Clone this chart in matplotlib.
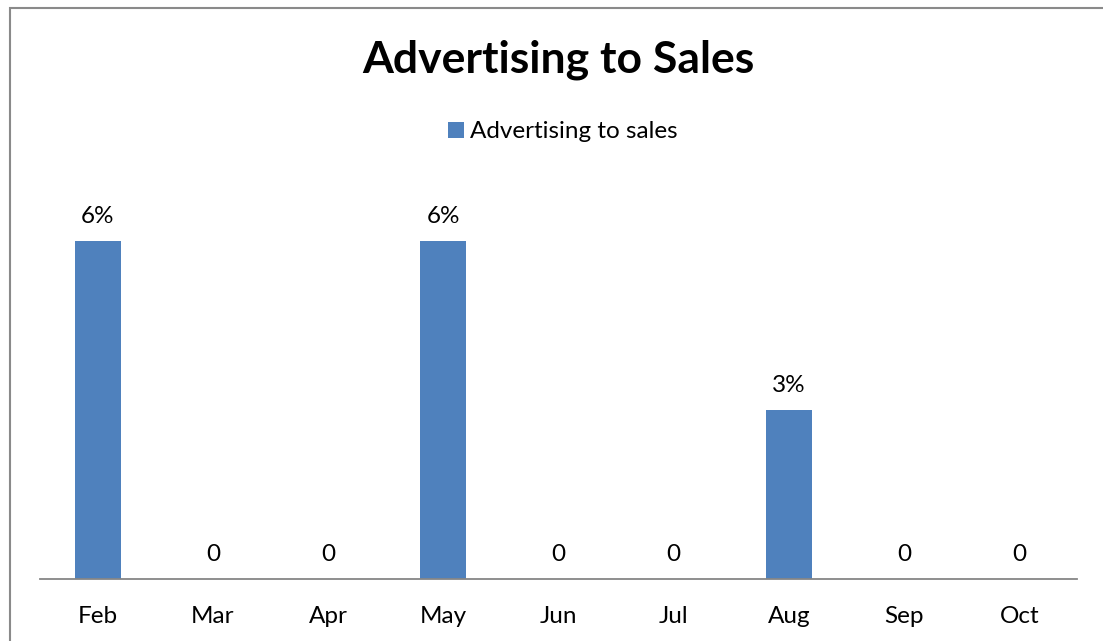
import matplotlib.pyplot as plt
from matplotlib.patches import Rectangle

months = ['Feb', 'Mar', 'Apr', 'May', 'Jun', 'Jul', 'Aug', 'Sep', 'Oct']
ad_to_sales = [0.06, 0, 0, 0.06, 0, 0, 0.03, 0, 0]

plt.rcParams['font.family'] = ['Lato', 'DejaVu Sans']

W, H = 1103, 641
fig = plt.figure(figsize=(W / 100, H / 100), dpi=100)
ax = fig.add_axes([40 / W, 62 / H, (1077 - 40) / W, (579 - 185) / H])

bar_color = '#4F81BD'
x = range(len(months))
bars = ax.bar(x, ad_to_sales, width=0.4, color=bar_color, label='Advertising to sales')

for xi, v in zip(x, ad_to_sales):
    txt = '0' if v == 0 else f'{v:.0%}'
    ax.annotate(txt, (xi, v), xytext=(0, 10), textcoords='offset points',
                ha='center', va='bottom', fontsize=17.5)

ax.set_xlim(-0.5, len(months) - 0.5)
ax.set_ylim(0, 0.07)
ax.set_xticks(list(x))
ax.set_xticklabels(months, fontsize=17.5)
ax.tick_params(axis='x', length=0, pad=19.5)
ax.set_yticks([])
for s in ['top', 'right', 'left']:
    ax.spines[s].set_visible(False)
ax.spines['bottom'].set_color('#868686')
ax.spines['bottom'].set_linewidth(1.3)

fig.text(558 / W, 1 - 60 / H, 'Advertising to Sales', ha='center', va='center',
         fontsize=32, fontweight='bold')
fig.legend(handles=[bars], loc='center', bbox_to_anchor=(563 / W, 1 - 132 / H),
           frameon=False, fontsize=17.5, handlelength=0.65, handleheight=0.65,
           handletextpad=0.25)

# chart frame (cropped on the right and bottom)
fig.patches.append(Rectangle((10 / W, -0.1), 1.2, 1 - 8 / H + 0.1,
                             transform=fig.transFigure, fill=False,
                             edgecolor='#8a8a8a', linewidth=1.5))

fig.savefig('out.png', dpi=100)
